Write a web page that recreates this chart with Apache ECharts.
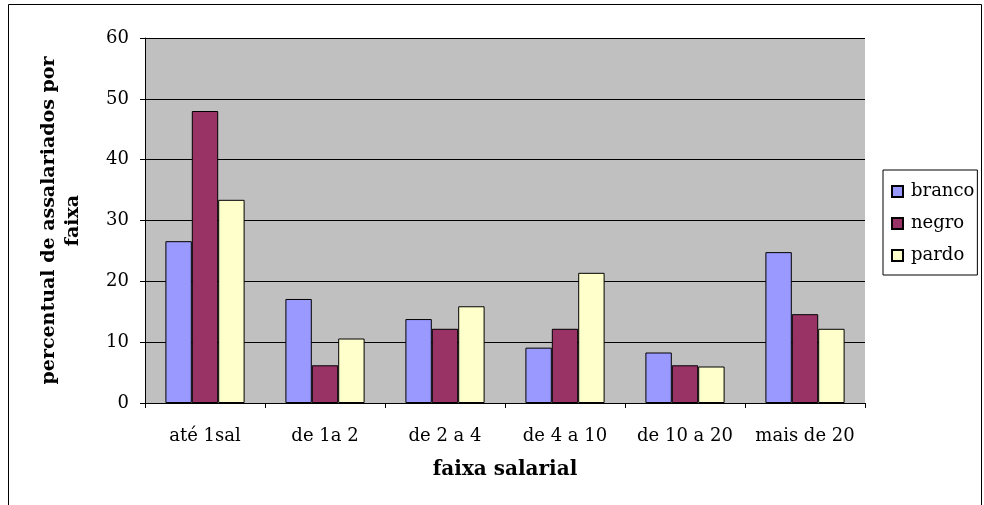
<!DOCTYPE html>
<html>
<head>
<meta charset="utf-8">
<script src="https://cdn.jsdelivr.net/npm/echarts@6/dist/echarts.min.js"></script>
<style>
  html, body { margin: 0; padding: 0; background: #fff; }
  #chart { width: 984px; height: 505px; }
</style>
</head>
<body>
<div id="chart"></div>
<script>
// faixas salariais
const categories = ['até 1sal', 'de 1a 2', 'de 2 a 4', 'de 4 a 10', 'de 10 a 20', 'mais de 20']
const branco = [26.6, 17.1, 13.8, 9.1, 8.3, 24.8]
const negro = [48.0, 6.2, 12.2, 12.2, 6.2, 14.6]
const pardo = [33.4, 10.6, 15.9, 21.4, 6.0, 12.2]
const yTicks = [0, 10, 20, 30, 40, 50, 60]

const fontFam = 'DejaVu Serif'
const chart = echarts.init(document.getElementById('chart'))

const mkSeries = (name, data, color) => ({
  name: name,
  type: 'bar',
  data: data,
  barGap: '0%',
  barCategoryGap: '34%',
  itemStyle: { color: color, borderColor: '#000', borderWidth: 1 }
})

const option = {
  animation: false,
  backgroundColor: '#fff',
  textStyle: { fontFamily: fontFam },
  graphic: [{
    type: 'rect',
    shape: { x: 8.5, y: 4.5, width: 973, height: 520 },
    style: { fill: 'none', stroke: '#000', lineWidth: 1 },
    silent: true
  }],
  grid: { left: 145, right: 119, top: 38, bottom: 102, show: true, backgroundColor: '#c0c0c0', borderWidth: 0 },
  legend: {
    orient: 'vertical',
    left: 883,
    top: 170,
    padding: [11, 3, 9, 8],
    itemGap: 11,
    itemWidth: 11,
    itemHeight: 11,
    icon: 'rect',
    borderColor: '#000',
    borderWidth: 1,
    backgroundColor: '#fff',
    textStyle: { fontFamily: fontFam, fontSize: 18, color: '#000', padding: [0, 0, 0, 3], lineHeight: 21 }
  },
  xAxis: {
    type: 'category',
    data: categories,
    name: 'faixa salarial',
    nameLocation: 'middle',
    nameGap: 57,
    nameTextStyle: { fontFamily: fontFam, fontSize: 20, fontWeight: 'bold', color: '#000' },
    axisLine: { lineStyle: { color: '#000' } },
    axisTick: { show: true, length: 5, lineStyle: { color: '#000' } },
    axisLabel: { color: '#000', fontSize: 18, fontFamily: fontFam, margin: 24, interval: 0 }
  },
  yAxis: {
    type: 'value',
    min: yTicks[0],
    max: yTicks[yTicks.length - 1],
    interval: 10,
    name: 'percentual de assalariados por\nfaixa',
    nameLocation: 'middle',
    nameGap: 60,
    nameTextStyle: { fontFamily: fontFam, fontSize: 19, fontWeight: 'bold', color: '#000', lineHeight: 24 },
    axisLine: { show: true, lineStyle: { color: '#000' } },
    axisTick: { show: true, length: 5, lineStyle: { color: '#000' } },
    axisLabel: { color: '#000', fontSize: 18, fontFamily: fontFam, margin: 16 },
    splitLine: { lineStyle: { color: '#000', width: 1 } }
  },
  series: [
    mkSeries('branco', branco, '#9999ff'),
    mkSeries('negro', negro, '#993366'),
    mkSeries('pardo', pardo, '#ffffcc')
  ]
}
chart.setOption(option)
</script>
</body>
</html>
